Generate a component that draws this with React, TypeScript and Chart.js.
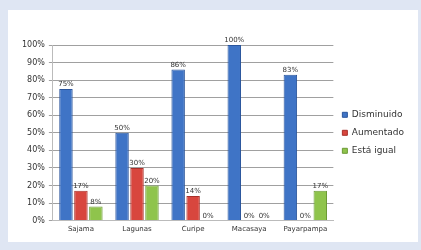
import React, { useEffect, useRef } from "react";
import { Chart, registerables } from "chart.js";

Chart.register(...registerables);

const categories = ["Sajama", "Lagunas", "Curipe", "Macasaya", "Payarpampa"];
const disminuido = [75, 50, 86, 100, 83];
const aumentado = [17, 30, 14, 0, 0];
const estaIgual = [8, 20, 0, 0, 17];
const seriesNames = ["Disminuido", "Aumentado", "Está igual"];
const yTicks = [0, 10, 20, 30, 40, 50, 60, 70, 80, 90, 100];

const FONT = "'DejaVu Sans', sans-serif";

const labelPlugin = {
  id: "valueLabels",
  afterDatasetsDraw(chart: any) {
    const ctx = chart.ctx;
    ctx.save();
    ctx.font = "7px " + FONT;
    ctx.fillStyle = "#333";
    ctx.textAlign = "center";
    ctx.textBaseline = "bottom";
    chart.data.datasets.forEach((ds: any, i: number) => {
      const meta = chart.getDatasetMeta(i);
      meta.data.forEach((el: any, j: number) => {
        ctx.fillText(ds.data[j] + "%", el.x, el.y - 1);
      });
    });
    ctx.restore();
  },
};

export default function App() {
  const ref = useRef<HTMLCanvasElement>(null);
  useEffect(() => {
    if (!ref.current) return;
    const chart = new Chart(ref.current, {
      type: "bar",
      data: {
        labels: categories,
        datasets: [
          { label: seriesNames[0], data: disminuido, backgroundColor: "#3f74c6", borderColor: "#2a559c", borderWidth: 1 },
          { label: seriesNames[1], data: aumentado, backgroundColor: "#d8463e", borderColor: "#a8302a", borderWidth: 1 },
          { label: seriesNames[2], data: estaIgual, backgroundColor: "#8fc44c", borderColor: "#6c9a36", borderWidth: 1 },
        ],
      },
      options: {
        responsive: false,
        animation: false,
        layout: { padding: { top: 35, right: 4, bottom: 5, left: 10 } },
        plugins: {
          legend: {
            position: "right",
            fullSize: false,
            labels: {
              boxWidth: 5,
              boxHeight: 5,
              padding: 9,
              color: "#333",
              font: { size: 9, family: FONT },
            },
          },
          tooltip: { enabled: false },
        },
        scales: {
          x: {
            grid: { display: false, drawTicks: false, tickLength: 0 },
            border: { color: "#bbb" },
            ticks: { color: "#333", padding: 4, font: { size: 7, family: FONT } },
            categoryPercentage: 0.74,
            barPercentage: 1,
          } as any,
          y: {
            min: 0,
            max: 100,
            afterBuildTicks: (axis: any) => {
              axis.ticks = yTicks.map((v) => ({ value: v }));
            },
            grid: { color: "#a0a0a0", drawTicks: true, tickLength: 4 },
            border: { color: "#bbb" },
            ticks: {
              color: "#333",
              padding: 4,
              font: { size: 8, family: FONT },
              callback: (v: any) => v + "%",
            },
          },
        },
      },
      plugins: [labelPlugin],
    });
    return () => chart.destroy();
  }, []);
  return (
    <div style={{ position: "fixed", left: 0, top: 0, width: 421, height: 250, background: "#dfe6f3" }}>
      <div style={{ position: "absolute", left: 8, top: 10, width: 410, height: 232, background: "#fff" }}>
        <canvas ref={ref} width={410} height={232} />
      </div>
    </div>
  );
}
